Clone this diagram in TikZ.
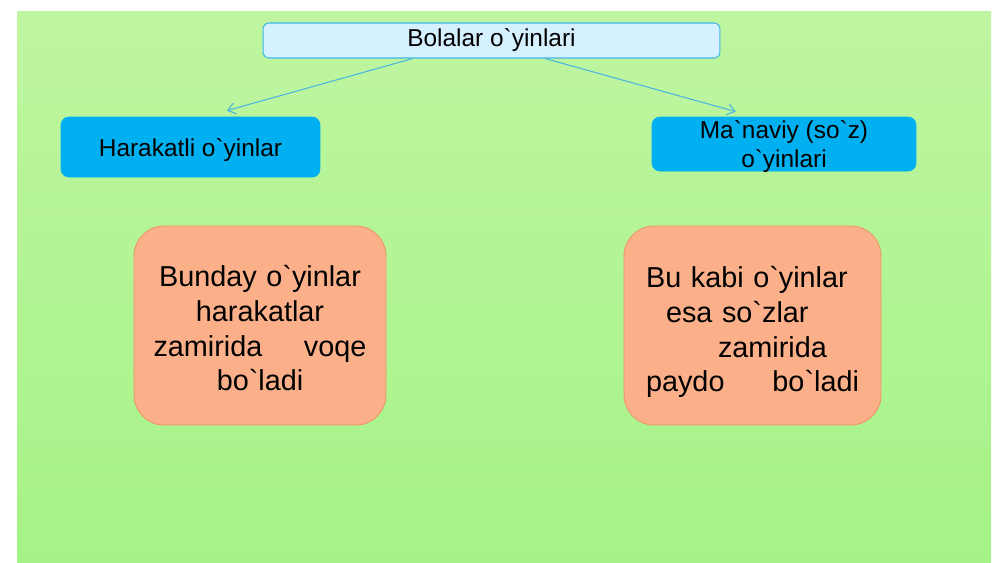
\documentclass[tikz,border=0pt]{standalone}
\usepackage{fontspec}
\newfontfamily\arl{Liberation Sans}
\usetikzlibrary{arrows.meta,calc}
\definecolor{bgtop}{RGB}{191,245,161}
\definecolor{bgbot}{RGB}{165,243,134}
\definecolor{titlefill}{RGB}{213,240,254}
\definecolor{titleline}{RGB}{64,184,232}
\definecolor{kindfill}{RGB}{0,176,240}
\definecolor{notefill}{RGB}{252,176,138}
\definecolor{noteline}{RGB}{236,150,105}
\definecolor{linkcol}{RGB}{75,180,225}

\begin{document}
\begin{tikzpicture}[x=0.02cm,y=-0.02cm]
	\tikzstyle{every node}+=[inner sep=0pt]
	\tikzstyle{title}=[draw=titleline, line width=0.6pt, fill=titlefill, rounded corners=0.12cm, minimum width=9.14cm, minimum height=0.7cm, font=\arl\fontsize{13.9pt}{16.5pt}\selectfont]
	\tikzstyle{kind}=[draw=kindfill, fill=kindfill, rounded corners=0.16cm, minimum height=1.08cm, align=center, font=\arl\fontsize{13.9pt}{16.5pt}\selectfont]
	\tikzstyle{note}=[draw=noteline, line width=0.5pt, fill=notefill, rounded corners=0.6cm, minimum width=5.04cm, minimum height=3.98cm, text width=4.26cm, font=\arl\fontsize{16.4pt}{19.8pt}\selectfont]
	\tikzstyle{link}=[draw=linkcol, line width=0.6pt, -{Straight Barb[length=1.5mm,width=2.2mm]}]
	\useasboundingbox (0,0) rectangle (1000,562);
	\fill [white] (0,0) rectangle (1000,562);
	\shade [top color=bgtop, bottom color=bgbot] (17,11) rectangle (991,562);
	% top of the tree
	\node [title] (bolalar) at (491.5,40.5) {Bolalar o`yinlari};
	\node [kind, minimum width=5.18cm, minimum height=1.2cm] (harakat) at (190.5,147) {\rule{0pt}{13.5pt}Harakatli o`yinlar};
	\node [kind, minimum width=5.28cm, text depth=0pt] (manaviy) at (784,144) {Ma`naviy (so`z)\\o`yinlari};
	\draw [link] ($(bolalar.south west)!.328!(bolalar.south east)$) -- ([yshift=0.12cm]$(harakat.north west)!.64!(harakat.north east)$);
	\draw [link] ($(bolalar.south west)!.617!(bolalar.south east)$) -- ([yshift=0.1cm]$(manaviy.north west)!.318!(manaviy.north east)$);
	% explanations
	\node [note, align=center] (harakatnote) at (260,325.5) {\rule{0pt}{15.2pt}Bunday o`yinlar\\harakatlar\hspace*{0.28em}\\zamirida\hfill voqe\\bo`ladi};
	\node [note, align=left, minimum width=5.14cm] (manaviynote) at (752.5,325.5) {\rule{0pt}{19.6pt}Bu kabi o`yinlar\\\hspace*{0.4cm}esa so`zlar\\\hspace*{1.44cm}zamirida\\paydo\hfill bo`ladi};
\end{tikzpicture}
\end{document}
